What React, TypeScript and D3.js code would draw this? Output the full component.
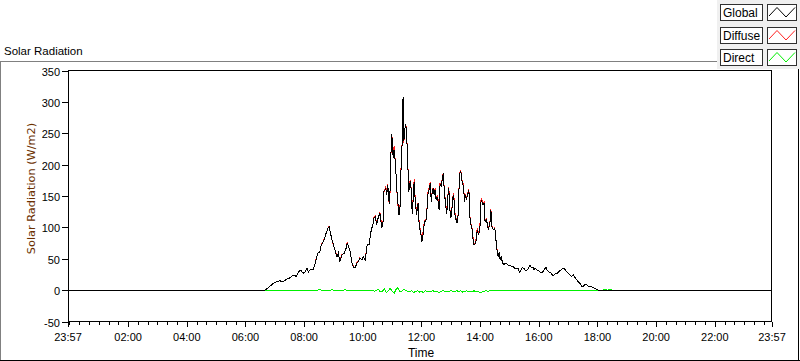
import React from "react";
import * as d3 from "d3";

// Time in minutes since 00:00 (axis runs from 23:57 of the previous day to 23:57)
const globalData: [number, number][] = [
  [-3, 0], [400, 0], [410, 6], [416, 10], [422, 13], [430, 15], [437, 13], [443, 17], [450, 19], [457, 24],
  [464, 22], [469, 29], [473, 32], [478, 27], [482, 29], [486, 35], [489, 29], [493, 33], [498, 32], [502, 40],
  [505, 51], [508, 59], [512, 61], [515, 72], [519, 77], [522, 83], [525, 91], [529, 99], [531, 101], [534, 91],
  [536, 83], [540, 72], [543, 64], [547, 53], [550, 59], [553, 45], [557, 56], [562, 59], [566, 67], [568, 75],
  [572, 67], [575, 59], [577, 45], [581, 37], [584, 35], [588, 43], [591, 45], [594, 51], [598, 48], [601, 53],
  [605, 48], [607, 61], [609, 72], [613, 72], [615, 85], [618, 99], [620, 101], [623, 115], [626, 117], [628, 104],
  [632, 117], [635, 122], [639, 99], [642, 112], [643, 157], [647, 162], [649, 152], [651, 168], [654, 138], [656, 162],
  [657, 205], [659, 248], [661, 234], [662, 210], [664, 224], [667, 200], [669, 168], [671, 146], [674, 120], [676, 130],
  [678, 189], [680, 221], [682, 303], [683, 308], [684, 237], [686, 258], [688, 264], [690, 242], [692, 202], [694, 157],
  [697, 173], [699, 160], [701, 122], [703, 144], [705, 173], [707, 146], [710, 120], [713, 138], [715, 109], [717, 96],
  [719, 88], [721, 77], [724, 93], [726, 109], [729, 109], [731, 125], [733, 152], [736, 162], [738, 170], [740, 141],
  [742, 157], [744, 162], [746, 152], [748, 160], [750, 144], [752, 149], [754, 141], [756, 128], [758, 168], [761, 165],
  [763, 181], [765, 186], [767, 149], [769, 144], [771, 122], [773, 130], [775, 162], [777, 152], [779, 115], [781, 117],
  [783, 136], [785, 152], [787, 141], [789, 115], [791, 112], [793, 107], [795, 120], [797, 165], [799, 189], [801, 186],
  [803, 173], [806, 165], [808, 141], [810, 152], [812, 144], [814, 152], [816, 157], [818, 152], [819, 117], [821, 104],
  [823, 101], [825, 85], [827, 72], [829, 72], [832, 80], [834, 96], [837, 88], [840, 104], [841, 138], [843, 144],
  [845, 136], [848, 138], [850, 109], [853, 112], [857, 96], [860, 107], [862, 128], [864, 101], [867, 96], [870, 99],
  [872, 83], [874, 67], [877, 53], [879, 61], [881, 48], [883, 53], [886, 43], [889, 40], [891, 43], [894, 43],
  [897, 40], [900, 40], [902, 40], [905, 37], [908, 37], [911, 35], [915, 34], [918, 34], [921, 28], [924, 32],
  [926, 36], [929, 35], [932, 32], [935, 31], [939, 35], [942, 40], [945, 36], [948, 37], [950, 33], [953, 35],
  [956, 32], [959, 32], [963, 28], [966, 28], [969, 30], [973, 35], [975, 36], [977, 32], [981, 29], [984, 28],
  [988, 24], [991, 24], [995, 27], [997, 26], [1000, 29], [1003, 31], [1007, 33], [1010, 35], [1014, 33], [1017, 29],
  [1020, 27], [1024, 24], [1027, 22], [1031, 24], [1034, 20], [1037, 17], [1041, 13], [1044, 11], [1048, 6], [1051, 6],
  [1054, 9], [1058, 9], [1061, 6], [1065, 5], [1068, 5], [1071, 4], [1075, 3], [1078, 1], [1082, 0], [1437, 0],
];

const directData: [number, number][] = [
  [-3, 0], [500, 0], [504, -1], [508, 0], [512, 1], [516, 0], [520, -1], [524, 0], [528, 0], [532, -1],
  [536, 1], [540, 0], [544, -1], [548, 0], [552, 0], [556, -1], [560, 0], [564, 1], [568, -1], [572, 0],
  [576, -1], [580, 0], [584, 0], [588, -1], [592, -1], [596, 0], [600, 0], [604, -1], [608, 0], [612, -1],
  [616, 0], [620, 0], [624, -2], [628, 0], [632, 1], [636, -3], [640, -2], [644, 2], [648, -4], [652, -1],
  [656, 3], [660, -2], [664, -5], [668, 1], [672, 4], [676, -3], [680, -2], [684, 2], [688, -1], [692, -2],
  [696, -3], [700, -1], [704, -4], [708, -2], [712, -1], [716, -3], [720, -2], [724, -4], [728, -1], [732, -2],
  [736, -3], [740, -2], [744, -1], [748, -3], [752, -2], [756, -4], [760, -2], [764, -1], [768, -2], [772, -3],
  [776, -2], [780, -1], [784, -2], [788, -3], [792, -1], [796, -2], [800, -1], [804, -3], [808, -2], [812, -1],
  [816, -2], [820, -2], [824, -2], [828, -1], [832, -3], [836, -2], [840, -4], [844, -3], [848, -2], [852, -1],
  [856, -2], [860, -1], [864, -1], [868, 0], [872, -1], [876, -1], [880, 0], [884, -1], [888, 0], [892, 0],
  [1090, 0], [1095, 1], [1100, 0], [1105, 1], [1110, 0], [1437, 0],
];

const yTicks = [-50, 0, 50, 100, 150, 200, 250, 300, 350];
const xTickMinutes = [-3, 120, 240, 360, 480, 600, 720, 840, 960, 1080, 1200, 1320, 1437];
const xTickLabels = ["23:57", "02:00", "04:00", "06:00", "08:00", "10:00", "12:00", "14:00", "16:00", "18:00", "20:00", "22:00", "23:57"];
const legendNames = ["Global", "Diffuse", "Direct"];
const seriesColors = ["#000000", "#ff2020", "#00f000"];

export default function App() {
  const x = d3.scaleLinear().domain([-3, 1437]).range([68, 772]);
  const y = d3.scaleLinear().domain([-50, 350]).range([321.5, 70.5]);

  const directAt = (t: number) => {
    const i = d3.bisector((d: [number, number]) => d[0]).left(directData, t);
    if (i <= 0) return directData[0][1];
    if (i >= directData.length) return directData[directData.length - 1][1];
    const a = directData[i - 1], b = directData[i];
    if (b[0] === t) return b[1];
    return a[1] + ((b[1] - a[1]) * (t - a[0])) / (b[0] - a[0]);
  };
  const diffuseData: [number, number][] = globalData.map(([t, g]) => [t, g - directAt(t)]);

  const line = d3
    .line<[number, number]>()
    .x((d) => x(d[0]))
    .y((d) => y(d[1]));

  const minorTicks = d3.range(0, 1437, 20);
  const font = "'Liberation Sans', Arial, sans-serif";

  return (
    <svg width={800} height={361} style={{ position: "absolute", left: 0, top: 0, background: "#fff" }}>
      <defs>
        <clipPath id="plotClip">
          <rect x={68} y={70} width={704} height={252} />
        </clipPath>
      </defs>
      <rect x={0} y={0} width={800} height={361} fill="#ffffff" />
      {/* outer frame */}
      <line x1={0} y1={61.5} x2={800} y2={61.5} stroke="#808080" />
      <line x1={0.5} y1={61} x2={0.5} y2={361} stroke="#808080" />
      <line x1={0} y1={360.5} x2={800} y2={360.5} stroke="#000" />
      <line x1={798.5} y1={61} x2={798.5} y2={361} stroke="#000" />

      <text x={4} y={55} fontFamily={font} fontSize={11.5} fill="#000">Solar Radiation</text>

      {/* series */}
      <g clipPath="url(#plotClip)" fill="none" strokeWidth={1} shapeRendering="crispEdges">
        <path d={line(directData) || ""} stroke={seriesColors[2]} />
        <path d={line(diffuseData) || ""} stroke={seriesColors[1]} />
        <path d={line(globalData) || ""} stroke={seriesColors[0]} />
      </g>

      {/* plot frame */}
      <rect x={68.5} y={70.5} width={703} height={251} fill="none" stroke="#000" shapeRendering="crispEdges" />

      {/* y axis */}
      {yTicks.map((v) => (
        <g key={v}>
          <line x1={62} x2={68} y1={Math.round(y(v)) + 0.5} y2={Math.round(y(v)) + 0.5} stroke="#000" />
          <text x={60} y={Math.round(y(v)) + 4.5} textAnchor="end" fontFamily={font} fontSize={11} fill="#000">
            {v}
          </text>
        </g>
      ))}
      <text
        transform="translate(35,188.5) rotate(-90)"
        textAnchor="middle"
        fontFamily="'DejaVu Sans', sans-serif"
        fontSize={11.3}
        fill="#6b3000"
      >
        Solar Radiation (W/m2)
      </text>

      {/* x axis */}
      {minorTicks.map((m) => (
        <line key={"m" + m} x1={Math.round(x(m)) + 0.5} x2={Math.round(x(m)) + 0.5} y1={322} y2={325} stroke="#000" />
      ))}
      {xTickMinutes.map((m, i) => (
        <g key={"M" + i}>
          <line x1={Math.round(x(m)) + 0.5} x2={Math.round(x(m)) + 0.5} y1={322} y2={327} stroke="#000" />
          <text x={x(m)} y={341} textAnchor="middle" fontFamily={font} fontSize={11} fill="#000">
            {xTickLabels[i]}
          </text>
        </g>
      ))}
      <text x={421} y={357} textAnchor="middle" fontFamily={font} fontSize={12} fill="#000">Time</text>

      {/* legend */}
      <rect x={717} y={0} width={83} height={69} fill="#f0f0f0" />
      {legendNames.map((name, i) => {
        const top = [4, 27, 49][i];
        return (
          <g key={name}>
            <rect x={720.5} y={top + 0.5} width={42} height={16} fill="#fff" stroke="#303030" shapeRendering="crispEdges" />
            <text x={723} y={top + 13} fontFamily={font} fontSize={12} fill="#000">{name}</text>
            <rect x={767.5} y={top + 0.5} width={29} height={16} fill="#fff" stroke="#303030" shapeRendering="crispEdges" />
            <polyline
              points={`769,${top + 12} 777,${top + 3.5} 786,${top + 13} 795,${top + 3.5}`}
              fill="none"
              stroke={seriesColors[i]}
              strokeWidth={1}
            />
          </g>
        );
      })}
    </svg>
  );
}
